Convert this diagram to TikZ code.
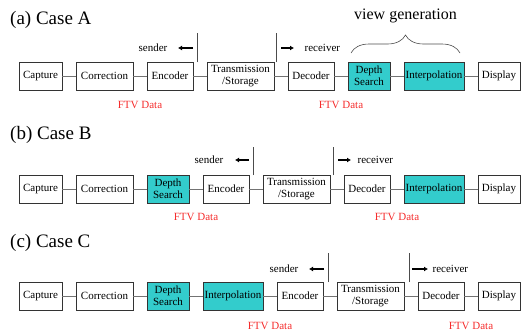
\documentclass[tikz,border=0pt]{standalone}
\usepackage{fontspec}
\setmainfont{Liberation Serif}
\usetikzlibrary{positioning,arrows.meta,decorations.pathreplacing}

\definecolor{viewcyan}{RGB}{51,204,204}
\definecolor{ftvred}{RGB}{245,45,45}

\tikzset{
  stage/.style={draw=black!80, line width=0.8pt, minimum height=28pt, inner sep=0pt,
    outer sep=0pt, align=center, font=\fontsize{11}{12}\selectfont},
  viewstage/.style={stage, fill=viewcyan},
  link/.style={draw=black!55, line width=0.8pt},
  divider/.style={draw=black!70, line width=0.8pt},
  pointer/.style={-{Latex[length=4pt,width=5pt]}, line width=1.3pt},
  tag/.style={inner sep=0pt, font=\fontsize{11}{12}\selectfont},
  ftv/.style={inner sep=0pt, text=ftvred, font=\fontsize{11}{12}\selectfont},
  casetitle/.style={inner sep=0pt, anchor=west, font=\fontsize{19}{22}\selectfont},
}

\begin{document}
\begin{tikzpicture}[node distance=14pt]
\useasboundingbox (0,0) rectangle (522pt,-333pt);

% case A
\node[casetitle] (ttlA) at (10pt,-20pt) {(a) Case A};
\node[stage, minimum width=43pt, anchor=west] (capA) at (19pt,-76pt) {Capture};
\node[stage, minimum width=57pt] (corA) [right=of capA] {Correction};
\node[stage, minimum width=46pt] (encA) [right=of corA] {Encoder};
\node[stage, minimum width=67pt] (trsA) [right=of encA] {Transmission\\/Storage};
\node[stage, minimum width=46pt] (decA) [right=of trsA] {Decoder};
\node[viewstage, minimum width=42pt] (depA) [right=of decA] {Depth\\Search};
\node[viewstage, minimum width=60pt] (intA) [right=of depA] {Interpolation};
\node[stage, minimum width=42pt] (dspA) [right=of intA] {Display};

\draw[link] (capA) -- (corA);
\draw[link] (corA) -- node[ftv, yshift=-29pt] (ftvA1) {FTV Data} (encA);
\draw[link] (encA) -- (trsA);
\draw[link] (trsA) -- (decA);
\draw[link] (decA) -- node[ftv, yshift=-29pt] (ftvA2) {FTV Data} (depA);
\draw[link] (depA) -- (intA);
\draw[link] (intA) -- (dspA);

\coordinate (sndA) at ([xshift=4pt]encA.north east);
\draw[divider] (sndA) -- ++(0,29pt);
\draw[pointer] ([shift={(-4pt,14pt)}]sndA) -- ++(-15pt,0) node[tag, left=10pt] (sndtxtA) {sender};
\coordinate (rcvA) at ([xshift=2pt]trsA.north east);
\draw[divider] (rcvA) -- ++(0,29pt);
\draw[pointer] ([shift={(5pt,14pt)}]rcvA) -- ++(13pt,0) node[tag, right=10pt] (rcvtxtA) {receiver};

\draw[divider, line width=0.6pt, decorate, decoration={brace, amplitude=18pt}]
  ([shift={(3pt,9pt)}]depA.north west) -- node[midway, above=30pt, inner sep=0pt,
  font=\fontsize{16}{18}\selectfont] (viewtxt) {view generation}
  ([shift={(-4pt,9pt)}]intA.north east);

% case B
\node[casetitle] (ttlB) at (10pt,-135pt) {(b) Case B};
\node[stage, minimum width=43pt, anchor=west] (capB) at (19pt,-189pt) {Capture};
\node[stage, minimum width=57pt] (corB) [right=of capB] {Correction};
\node[viewstage, minimum width=42pt] (depB) [right=of corB] {Depth\\Search};
\node[stage, minimum width=46pt] (encB) [right=of depB] {Encoder};
\node[stage, minimum width=67pt] (trsB) [right=of encB] {Transmission\\/Storage};
\node[stage, minimum width=46pt] (decB) [right=of trsB] {Decoder};
\node[viewstage, minimum width=60pt] (intB) [right=of decB] {Interpolation};
\node[stage, minimum width=42pt] (dspB) [right=of intB] {Display};

\draw[link] (capB) -- (corB);
\draw[link] (corB) -- (depB);
\draw[link] (depB) -- node[ftv, yshift=-28pt] (ftvB1) {FTV Data} (encB);
\draw[link] (encB) -- (trsB);
\draw[link] (trsB) -- (decB);
\draw[link] (decB) -- node[ftv, yshift=-28pt] (ftvB2) {FTV Data} (intB);
\draw[link] (intB) -- (dspB);

\coordinate (sndB) at ([xshift=4pt]encB.north east);
\draw[divider] (sndB) -- ++(0,28pt);
\draw[pointer] ([shift={(-4pt,15pt)}]sndB) -- ++(-14pt,0) node[tag, left=11pt] (sndtxtB) {sender};
\coordinate (rcvB) at ([xshift=3pt]trsB.north east);
\draw[divider] (rcvB) -- ++(0,28pt);
\draw[pointer] ([shift={(5pt,15pt)}]rcvB) -- ++(13pt,0) node[tag, right=6pt] (rcvtxtB) {receiver};

% case C
\node[casetitle] (ttlC) at (10pt,-243pt) {(c) Case C};
\node[stage, minimum width=43pt, anchor=west] (capC) at (19pt,-296pt) {Capture};
\node[stage, minimum width=57pt] (corC) [right=of capC] {Correction};
\node[viewstage, minimum width=42pt] (depC) [right=of corC] {Depth\\Search};
\node[viewstage, minimum width=60pt] (intC) [right=of depC] {Interpolation};
\node[stage, minimum width=46pt] (encC) [right=of intC] {Encoder};
\node[stage, minimum width=67pt] (trsC) [right=of encC] {Transmission\\/Storage};
\node[stage, minimum width=46pt] (decC) [right=of trsC] {Decoder};
\node[stage, minimum width=42pt] (dspC) [right=of decC] {Display};

\draw[link] (capC) -- (corC);
\draw[link] (corC) -- (depC);
\draw[link] (depC) -- (intC);
\draw[link] (intC) -- node[ftv, yshift=-30pt] (ftvC1) {FTV Data} (encC);
\draw[link] (encC) -- (trsC);
\draw[link] (trsC) -- (decC);
\draw[link] (decC) -- node[ftv, yshift=-30pt] (ftvC2) {FTV Data} (dspC);

\coordinate (sndC) at ([xshift=5pt]encC.north east);
\draw[divider] (sndC) -- ++(0,29pt);
\draw[pointer] ([shift={(-4pt,13pt)}]sndC) -- ++(-15pt,0) node[tag, left=10pt] (sndtxtC) {sender};
\coordinate (rcvC) at ([xshift=5pt]trsC.north east);
\draw[divider] (rcvC) -- ++(0,29pt);
\draw[pointer] ([shift={(3pt,13pt)}]rcvC) -- ++(16pt,0) node[tag, right=4pt] (rcvtxtC) {receiver};
\end{tikzpicture}
\end{document}
